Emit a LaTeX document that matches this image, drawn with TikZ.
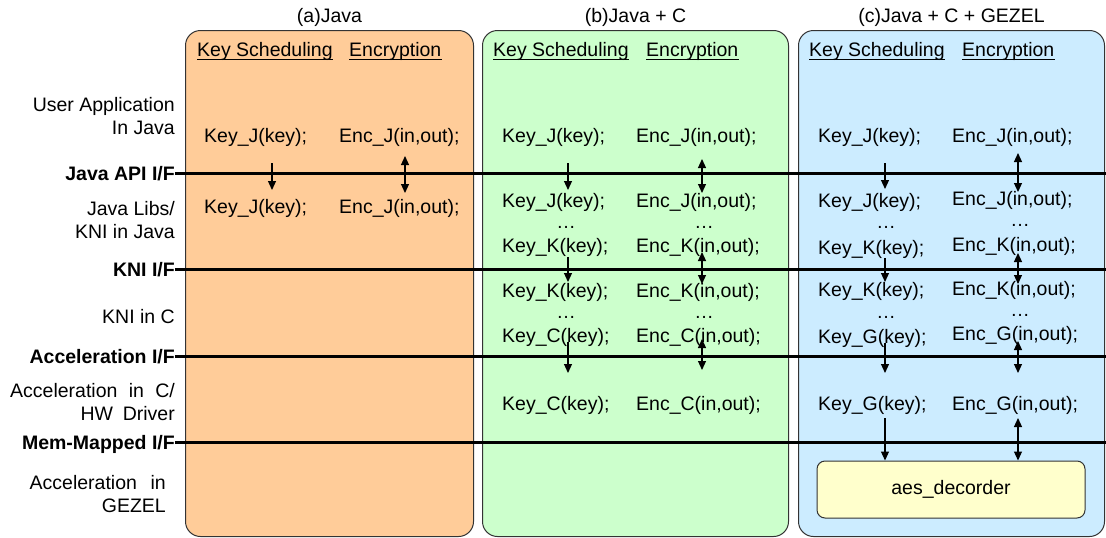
\documentclass[tikz,border=0pt]{standalone}
\usepackage{fontspec}
\setmainfont{Liberation Sans}
\usetikzlibrary{arrows.meta,calc}

% arrow between two named end points: name, style, x, y-start, y-end
\newcommand\linkarrow[5]{%
  \coordinate (#1s) at (#3,#4);
  \coordinate (#1e) at (#3,#5);
  \draw[#2] (#1s) -- (#1e);}

\definecolor{javafill}{HTML}{FFCC99}
\definecolor{cfill}{HTML}{CCFFCC}
\definecolor{gezelfill}{HTML}{CCECFF}
\definecolor{hwfill}{HTML}{FFFFCC}
\definecolor{edge}{HTML}{333333}

\begin{document}
\begin{tikzpicture}[x=1pt,y=-1pt,
  every node/.style={inner sep=0pt, font=\fontsize{19.5}{22.5}\selectfont},
  panel/.style={draw=edge, line width=1pt, rounded corners=15pt, anchor=north west},
  hwbox/.style={draw=edge, line width=1pt, rounded corners=8pt, fill=hwfill},
  ifline/.style={line width=3pt},
  code/.style={anchor=base west},
  dots/.style={anchor=base},
  title/.style={anchor=base},
  hdr/.style={anchor=base west},
  lbl/.style={anchor=base east, align=right},
  iflbl/.style={anchor=base east, font=\fontsize{19.5}{22.5}\selectfont\bfseries},
  uline/.style={line width=1.3pt},
  oneway/.style={line width=1.2pt, -{Triangle[length=9pt,width=8pt]}},
  twoway/.style={line width=1.2pt, {Triangle[length=9pt,width=8pt]}-{Triangle[length=9pt,width=8pt]}},
]
\useasboundingbox (0,0) rectangle (1106,538);
\coordinate (R) at (1106,0);

% the three panels
\node[panel, fill=javafill, minimum width=288pt, minimum height=506pt] (pa) at (185,30) {};
\node[panel, fill=cfill, minimum width=306pt, minimum height=506pt] (pb) at (482,30) {};
\node[panel, fill=gezelfill, minimum width=306pt, minimum height=506pt] (pc) at (798,30) {};

\node[title] (ta) at (pa.north |- 0,22.5) {(a)Java};
\node[title] (tb) at (pb.north |- 0,22.5) {(b)Java + C};
\node[title] (tc) at (pc.north |- 0,22.5) {(c)Java + C + GEZEL};

% column headers
\foreach \p/\k/\e in {a/197/349, b/493/646, c/809/962}{
  \node[hdr] (hk\p) at (\k,56.5) {Key Scheduling};
  \node[hdr] (he\p) at (\e,56.5) {Encryption};
  \draw[uline] ([yshift=-2.7pt]hk\p.base west) -- ([yshift=-2.7pt]hk\p.base east);
  \draw[uline] ([yshift=-2.7pt]he\p.base west) -- ([yshift=-2.7pt]he\p.base east);
}

% layer labels (base = baseline of the last line)
\node[lbl] (lUser) at (175,134) {User Application\\In Java};
\node[iflbl] (lApi) at (175,180) {Java API I/F};
\node[lbl] (lLibs) at (175,238) {Java Libs/\\KNI in Java};
\node[iflbl] (lKni) at (175,276) {KNI I/F};
\node[lbl] (lKniC) at (175,323) {KNI in C};
\node[iflbl] (lAcc) at (175,363) {Acceleration I/F};
\node[lbl] (lAccC) at (175,420) {Acceleration\hspace{0.58em}in\hspace{0.58em}C/\\HW\hspace{0.5em}Driver};
\node[iflbl] (lMem) at (175,449) {Mem-Mapped I/F};
\node[lbl] (lGez) at (166,512) {Acceleration\hspace{0.7em}in\\GEZEL};

% interface lines
\foreach \l in {lApi,lKni,lAcc,lMem}{
  \draw[ifline] ([yshift=7pt]\l.base east) -- ([yshift=7pt]\l.base east -| R);
}

% (a) Java
\node[code] (aK1) at (204,142) {Key\_J(key);};
\node[code] (aE1) at (339,142) {Enc\_J(in,out);};
\node[code] (aK2) at (204,213) {Key\_J(key);};
\node[code] (aE2) at (339,213) {Enc\_J(in,out);};
\linkarrow{aKa}{oneway}{272}{163}{190}
\linkarrow{aEa}{twoway}{405}{156}{193}

% (b) Java + C
\node[code] (bK1) at (502,142) {Key\_J(key);};
\node[code] (bE1) at (636,142) {Enc\_J(in,out);};
\node[code] (bK2) at (502,207) {Key\_J(key);};
\node[code] (bE2) at (636,207) {Enc\_J(in,out);};
\node[dots] (bKd1) at (566,228) {…};
\node[dots] (bEd1) at (704,228) {…};
\node[code] (bK3) at (502,252) {Key\_K(key);};
\node[code] (bE3) at (636,252) {Enc\_K(in,out);};
\node[code] (bK4) at (502,297) {Key\_K(key);};
\node[code] (bE4) at (636,297) {Enc\_K(in,out);};
\node[dots] (bKd2) at (566,318) {…};
\node[dots] (bEd2) at (704,318) {…};
\node[code] (bK5) at (502,342) {Key\_C(key);};
\node[code] (bE5) at (636,342) {Enc\_C(in,out);};
\node[code] (bK6) at (502,410) {Key\_C(key);};
\node[code] (bE6) at (636,410) {Enc\_C(in,out);};
\linkarrow{bKa}{oneway}{568}{163}{190}
\linkarrow{bEa}{twoway}{702}{159}{193}
\linkarrow{bKb}{oneway}{568}{257}{282}
\linkarrow{bEb}{twoway}{702}{252}{284}
\linkarrow{bKc}{oneway}{568}{342}{373}
\linkarrow{bEc}{twoway}{702}{339}{370}

% (c) Java + C + GEZEL
\node[code] (cK1) at (818,142) {Key\_J(key);};
\node[code] (cE1) at (952,142) {Enc\_J(in,out);};
\node[code] (cK2) at (818,207) {Key\_J(key);};
\node[code] (cE2) at (952,205) {Enc\_J(in,out);};
\node[dots] (cKd1) at (886,228) {…};
\node[dots] (cEd1) at (1020,226) {…};
\node[code] (cK3) at (818,254) {Key\_K(key);};
\node[code] (cE3) at (952,251) {Enc\_K(in,out);};
\node[code] (cK4) at (818,296) {Key\_K(key);};
\node[code] (cE4) at (952,295) {Enc\_K(in,out);};
\node[dots] (cKd2) at (886,318) {…};
\node[dots] (cEd2) at (1020,316) {…};
\node[code] (cK5) at (818,343) {Key\_G(key);};
\node[code] (cE5) at (952,340) {Enc\_G(in,out);};
\node[code] (cK6) at (818,410) {Key\_G(key);};
\node[code] (cE6) at (952,410) {Enc\_G(in,out);};
\node[hwbox, minimum width=268pt, minimum height=57pt] (aes) at (951,489.5) {aes\_decorder};
\linkarrow{cKa}{oneway}{885}{163}{189}
\linkarrow{cEa}{twoway}{1018}{153}{192}
\linkarrow{cKb}{oneway}{885}{258}{282}
\linkarrow{cEb}{twoway}{1018}{253}{284}
\linkarrow{cKc}{oneway}{885}{343}{373}
\linkarrow{cEc}{twoway}{1018}{341}{373}
\coordinate (cKd) at (885,418);
\coordinate (cEd) at (1018,418);
\draw[oneway] (cKd) -- (cKd |- aes.north);
\draw[twoway] (cEd) -- (cEd |- aes.north);
\end{tikzpicture}
\end{document}
